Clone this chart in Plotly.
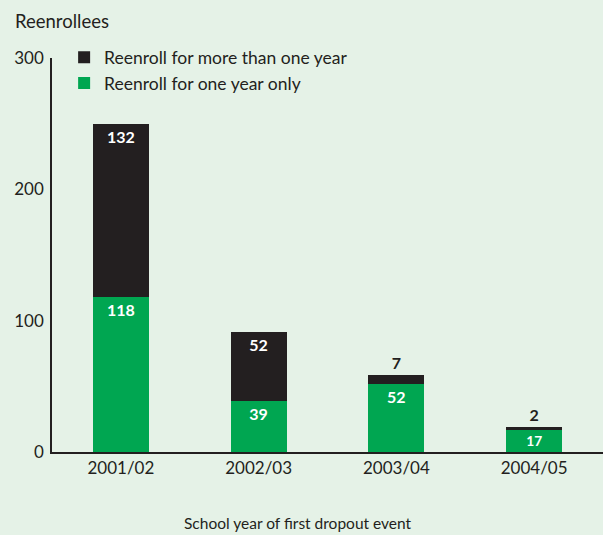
import plotly.graph_objects as go

categories = ["2001/02", "2002/03", "2003/04", "2004/05"]
one_year = [118, 39, 52, 17]
more_than_one = [132, 52, 7, 2]
y_ticks = [0, 100, 200, 300]

BG = "#e5f2e7"
GREEN = "#00a651"
DARK = "#231f20"
FONT = "Lato"

fig = go.Figure()
fig.add_trace(go.Bar(
    x=categories, y=one_year, name="Reenroll for one year only",
    marker=dict(color=GREEN, line=dict(width=0)),
    text=[str(v) for v in one_year], textposition="inside",
    insidetextanchor="end", textangle=0,
    insidetextfont=dict(color="white", size=16, family=FONT, weight="bold"),
))
pos = ["inside" if v > 20 else "outside" for v in more_than_one]
fig.add_trace(go.Bar(
    x=categories, y=more_than_one, name="Reenroll for more than one year",
    marker=dict(color=DARK, line=dict(width=0)),
    text=[str(v) for v in more_than_one], textposition=pos,
    insidetextanchor="end", textangle=0,
    insidetextfont=dict(color="white", size=16, family=FONT, weight="bold"),
    outsidetextfont=dict(color=DARK, size=16, family=FONT, weight="bold"),
    cliponaxis=False,
))

fig.update_layout(
    width=603, height=535,
    margin=dict(l=52, r=0, t=58, b=83),
    paper_bgcolor=BG, plot_bgcolor=BG,
    barmode="stack", bargap=0.594,
    font=dict(family=FONT, size=17, color=DARK),
    showlegend=True,
    legend=dict(x=0.022, y=1.047, xanchor="left", yanchor="top",
                traceorder="reversed", bgcolor="rgba(0,0,0,0)",
                font=dict(size=17.5, color=DARK), itemwidth=30,
                tracegroupgap=0),
)
fig.update_xaxes(
    range=[-0.5, 3.5], showline=True, linecolor=DARK, linewidth=1.5,
    ticks="", showgrid=False, zeroline=False,
    tickfont=dict(size=17, color=DARK),
)
fig.update_yaxes(
    range=[0, 300], tickvals=y_ticks, showline=True, linecolor=DARK,
    linewidth=1.5, ticks="", showgrid=False, zeroline=False,
    ticklabelstandoff=3, tickfont=dict(size=17, color=DARK),
)
fig.add_annotation(text="Reenrollees", xref="paper", yref="paper",
                   x=-39/551, y=1 + (58 - 8) / 394, xanchor="left", yanchor="top",
                   showarrow=False, font=dict(size=18.5, color=DARK))
fig.add_annotation(text="School year of first dropout event", xref="paper", yref="paper",
                   x=(298 - 52) / 551, y=-(523 - 452) / 394, xanchor="center", yanchor="middle",
                   showarrow=False, font=dict(size=15.5, color=DARK))

fig.write_html("out.html", config={"displayModeBar": False},
               post_script="document.body.style.margin='0';document.body.style.padding='0';")
